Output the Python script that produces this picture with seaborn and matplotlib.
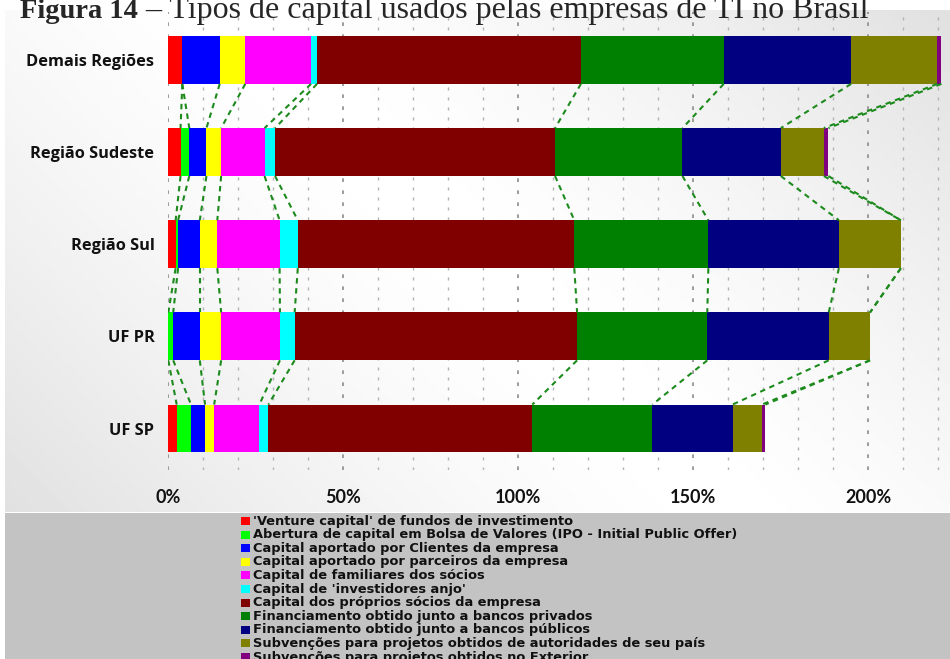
import numpy as np
import pandas as pd
import matplotlib
matplotlib.use("Agg")
import matplotlib.pyplot as plt
from matplotlib.patches import Rectangle
import seaborn as sns

# ---- data (% of companies, each region sums its answers across capital types) ----
regioes = ["Demais Regiões", "Região Sudeste", "Região Sul", "UF PR", "UF SP"]

tipos = [
    "'Venture capital' de fundos de investimento",
    "Abertura de capital em Bolsa de Valores (IPO - Initial Public Offer)",
    "Capital aportado por Clientes da empresa",
    "Capital aportado por parceiros da empresa",
    "Capital de familiares dos sócios",
    "Capital de 'investidores anjo'",
    "Capital dos próprios sócios da empresa",
    "Financiamento obtido junto a bancos privados",
    "Financiamento obtido junto a bancos públicos",
    "Subvenções para projetos obtidos de autoridades de seu país",
    "Subvenções para projetos obtidos no Exterior",
]

cores = ["#ff0000", "#00ff00", "#0000ff", "#ffff00", "#ff00ff", "#00ffff",
         "#800000", "#008000", "#000080", "#808000", "#800080"]

demais_regioes = [4.0, 0.0, 10.7, 7.3, 18.8, 1.7, 75.4, 40.8, 36.4, 24.6, 1.2]
regiao_sudeste = [3.5, 2.5, 4.9, 4.2, 12.4, 3.0, 80.0, 36.4, 28.1, 12.3, 1.3]
regiao_sul = [2.1, 0.7, 6.2, 5.0, 17.8, 5.2, 79.0, 38.3, 37.3, 17.7, 0.0]
uf_pr = [0.0, 1.4, 7.6, 6.1, 16.8, 4.2, 80.7, 37.2, 34.7, 11.8, 0.0]
uf_sp = [2.4, 4.1, 4.0, 2.6, 12.9, 2.6, 75.4, 34.3, 22.9, 8.4, 1.0]

x_ticks = [0, 50, 100, 150, 200]
x_ticklabels = ["0%", "50%", "100%", "150%", "200%"]

titulo_num = "Figura 14"
titulo_txt = " – Tipos de capital usados pelas empresas de TI no Brasil"

# ---- figure ----
sns.set_style("white")
plt.rcParams["font.family"] = ["DejaVu Sans"]

W, H = 950, 659
fig = plt.figure(figsize=(W / 100, H / 100), dpi=100)
fig.patch.set_facecolor("white")


def fx(px):
    return px / W


def fy(py):
    return 1 - py / H


# soft diagonal background behind the chart
bg = fig.add_axes([fx(5), fy(512), fx(945), (512 - 10) / H], zorder=-5)
gx, gy = np.meshgrid(np.linspace(-1, 1, 400), np.linspace(1, -1, 300))
t = (gx * 945 + gy * 502) / (945 + 502)
shade = 1 - 0.12 * np.abs(t) ** 1.4
bg.imshow(shade, cmap="gray", vmin=0, vmax=1, aspect="auto",
          extent=[0, 1, 0, 1], interpolation="bilinear")
bg.set_axis_off()

# main chart
left_px, right_px = 168.3, 168.3 + 3.5 * 222
top_px, bot_px = 12, 470
ax = fig.add_axes([fx(left_px), fy(bot_px), fx(right_px - left_px),
                   (bot_px - top_px) / H])
ax.patch.set_alpha(0)

valores = np.array([demais_regioes, regiao_sudeste, regiao_sul, uf_pr, uf_sp])
acumulado = valores.cumsum(axis=1)
altura = 0.52

# stacked bars: draw cumulative totals from the outermost segment inwards
for k in reversed(range(len(tipos))):
    df = pd.DataFrame({"regiao": regioes, "valor": acumulado[:, k]})
    sns.barplot(data=df, x="valor", y="regiao", orient="h", color=cores[k],
                saturation=1, width=altura, linewidth=0, errorbar=None, ax=ax)

# dashed connectors between matching segment edges of neighbouring bars
for k in range(len(tipos)):
    for i in range(len(regioes) - 1):
        ax.plot([acumulado[i, k], acumulado[i + 1, k]],
                [i + altura / 2, i + 1 - altura / 2],
                color="#1d8a1d", lw=1.5, ls=(0, (2.6, 2.2)), zorder=4)

ax.set_xlim(0, 222)
ax.set_ylim(4.45, -0.52)
ax.set_xlabel("")
ax.set_ylabel("")
ax.set_xticks(x_ticks)
ax.set_xticklabels(x_ticklabels)
ax.set_xticks(np.arange(0, 221, 10), minor=True)
ax.set_axisbelow(True)
ax.grid(axis="x", which="major", color="#8c8c8c", lw=1.2, ls=(0, (2.2, 5)))
ax.grid(axis="x", which="minor", color="#b4b4b4", lw=1.0, ls=(0, (2.2, 5)))
ax.grid(axis="y", visible=False)
ax.tick_params(axis="both", which="both", length=0)
ax.tick_params(axis="x", pad=14)
ax.tick_params(axis="y", pad=10)
for lab in ax.get_xticklabels():
    lab.set_fontfamily("Lato")
    lab.set_fontweight("bold")
    lab.set_fontsize(13)
    lab.set_color("#111111")
for lab in ax.get_yticklabels():
    lab.set_fontfamily("Open Sans")
    lab.set_fontweight("bold")
    lab.set_fontsize(11.8)
    lab.set_color("#111111")
for s in ax.spines.values():
    s.set_visible(False)

# legend band
fig.add_artist(Rectangle((fx(5), 0), fx(945), (H - 513) / H,
                         transform=fig.transFigure, facecolor="#c3c3c3",
                         edgecolor="none", zorder=-4))
lg = fig.add_axes([0, 0, 1, (H - 513) / H])
lg.set_xlim(0, W)
lg.set_ylim(H, 513)
lg.set_axis_off()
lg.patch.set_alpha(0)
for j, (nome, cor) in enumerate(zip(tipos, cores)):
    yc = 521 + 13.6 * j
    lg.add_patch(Rectangle((241, yc - 4), 9, 8, facecolor=cor,
                           edgecolor="none", clip_on=False))
    lg.text(253, yc, nome, fontsize=9.4, fontfamily="DejaVu Sans",
            fontweight="bold", color="#111111", va="center", ha="left",
            clip_on=False)

# title, partly cut by the top edge
t1 = fig.text(fx(20), fy(18), titulo_num, fontfamily="Liberation Serif",
              fontweight="bold", fontsize=20.5, va="baseline", ha="left")
fig.canvas.draw()
bb = t1.get_window_extent()
fig.text(bb.x1 / W, fy(18), titulo_txt, fontfamily="Liberation Serif",
         fontsize=23, va="baseline", ha="left")

fig.savefig("out.png", dpi=100)
